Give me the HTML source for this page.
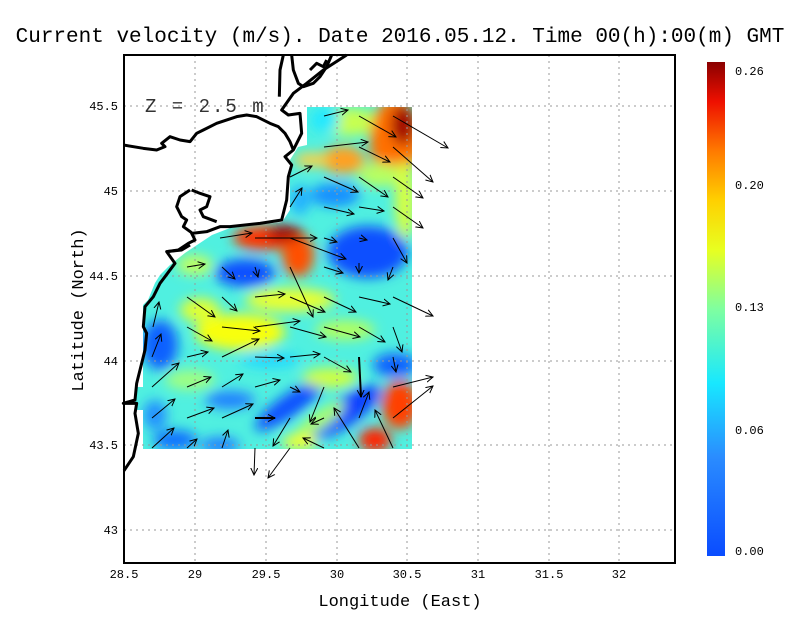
<!DOCTYPE html>
<html><head><meta charset="utf-8"><style>
html,body{margin:0;padding:0;background:#fff;}
svg{display:block;font-family:"Liberation Mono",monospace;}
</style></head><body>
<svg width="800" height="618" viewBox="0 0 800 618" xmlns="http://www.w3.org/2000/svg">
<defs>
<filter id="bl" x="-50%" y="-50%" width="200%" height="200%"><feGaussianBlur stdDeviation="6"/></filter>
<clipPath id="reg"><polygon points="307,107 412,107 412,449 143,449 143,410 135,410 135,387 143,387 143,305 148,300 155,283 160,275 170,265 185,253 200,243 212,235 230,228 282,222 290,210 290,160 298,147 307,145"/></clipPath>
<linearGradient id="cb" x1="0" y1="1" x2="0" y2="0">
<stop offset="0" stop-color="#0a4cff"/><stop offset="0.2" stop-color="#2a8cff"/><stop offset="0.35" stop-color="#18e8ff"/><stop offset="0.5" stop-color="#7fffa0"/><stop offset="0.62" stop-color="#e8ff20"/><stop offset="0.72" stop-color="#ffd000"/><stop offset="0.82" stop-color="#ff7a00"/><stop offset="0.92" stop-color="#ee1000"/><stop offset="1" stop-color="#8a0000"/>
</linearGradient>
<marker id="ah" markerWidth="8" markerHeight="8" refX="7" refY="4" orient="auto" markerUnits="userSpaceOnUse"><path d="M0,0.5 L7,4 L0,7.5" fill="none" stroke="#000" stroke-width="1"/></marker>
</defs>
<text x="400" y="42" font-size="21" text-anchor="middle">Current velocity (m/s). Date 2016.05.12. Time 00(h):00(m) GMT</text>
<g clip-path="url(#reg)">
<rect x="130" y="100" width="290" height="360" fill="#50f0e0"/>
<g filter="url(#bl)">
<ellipse cx="350" cy="122" rx="30" ry="14" fill="#c8ff50"/>
<ellipse cx="325" cy="120" rx="15" ry="12" fill="#20e8ff"/>
<ellipse cx="395" cy="140" rx="25" ry="42" fill="#ff7000"/>
<ellipse cx="403" cy="125" rx="12" ry="20" fill="#a00000"/>
<ellipse cx="380" cy="175" rx="22" ry="12" fill="#b8ff60"/>
<ellipse cx="343" cy="160" rx="22" ry="14" fill="#ffa020"/>
<ellipse cx="312" cy="160" rx="18" ry="7" fill="#ffd040"/>
<ellipse cx="335" cy="195" rx="25" ry="12" fill="#1890ff"/>
<ellipse cx="300" cy="200" rx="10" ry="15" fill="#20b0ff"/>
<ellipse cx="405" cy="200" rx="10" ry="40" fill="#d8ff40"/>
<ellipse cx="265" cy="238" rx="32" ry="12" fill="#ff3000"/>
<ellipse cx="298" cy="255" rx="16" ry="22" fill="#ff5000"/>
<ellipse cx="285" cy="233" rx="18" ry="8" fill="#a00000"/>
<ellipse cx="368" cy="252" rx="40" ry="26" fill="#0a50ff"/>
<ellipse cx="245" cy="273" rx="30" ry="14" fill="#0a50ff"/>
<ellipse cx="195" cy="265" rx="18" ry="10" fill="#c0ff60"/>
<ellipse cx="290" cy="300" rx="45" ry="12" fill="#e8ff30"/>
<ellipse cx="240" cy="332" rx="45" ry="18" fill="#f8ff10"/>
<ellipse cx="200" cy="310" rx="20" ry="12" fill="#e0ff30"/>
<ellipse cx="160" cy="345" rx="18" ry="25" fill="#1060ff"/>
<ellipse cx="190" cy="380" rx="25" ry="10" fill="#a0ff80"/>
<ellipse cx="155" cy="415" rx="12" ry="15" fill="#2090ff"/>
<ellipse cx="175" cy="440" rx="22" ry="10" fill="#1070ff"/>
<ellipse cx="290" cy="405" rx="42" ry="11" fill="#1050ff" transform="rotate(-35 290 405)"/>
<ellipse cx="345" cy="412" rx="42" ry="14" fill="#0a40ff" transform="rotate(-35 345 412)"/>
<ellipse cx="320" cy="420" rx="30" ry="8" fill="#b0ff60" transform="rotate(-35 320 420)"/>
<ellipse cx="395" cy="365" rx="22" ry="12" fill="#1060ff"/>
<ellipse cx="400" cy="405" rx="18" ry="24" fill="#ff4000"/>
<ellipse cx="375" cy="440" rx="16" ry="12" fill="#ff2000"/>
<ellipse cx="300" cy="442" rx="18" ry="8" fill="#f0ff30"/>
<ellipse cx="330" cy="378" rx="28" ry="10" fill="#d0ff40"/>
<ellipse cx="230" cy="400" rx="25" ry="9" fill="#2080ff"/>
<ellipse cx="345" cy="330" rx="30" ry="10" fill="#b0ff60"/>
<ellipse cx="220" cy="445" rx="20" ry="8" fill="#2080ff"/>
<ellipse cx="270" cy="360" rx="30" ry="8" fill="#20d8ff"/>
</g>
</g>
<g stroke="#999" stroke-dasharray="2,4" stroke-width="1">
<line x1="195" y1="55" x2="195" y2="563"/><line x1="266" y1="55" x2="266" y2="563"/><line x1="337" y1="55" x2="337" y2="563"/><line x1="407" y1="55" x2="407" y2="563"/><line x1="478" y1="55" x2="478" y2="563"/><line x1="549" y1="55" x2="549" y2="563"/><line x1="619" y1="55" x2="619" y2="563"/>
<line x1="124" y1="106" x2="675" y2="106"/><line x1="124" y1="191" x2="675" y2="191"/><line x1="124" y1="276" x2="675" y2="276"/><line x1="124" y1="361" x2="675" y2="361"/><line x1="124" y1="445" x2="675" y2="445"/><line x1="124" y1="530" x2="675" y2="530"/>
</g>
<g transform="translate(120,50) scale(0.33333)" fill="none" stroke="#000" stroke-width="9" stroke-linejoin="round">
<path d="M680,15 L610,60 L560,100 L520,130 L485,180 L505,195 L540,190 L545,250 L530,280 L520,300 L495,320 L515,345 L505,380 L500,450 L485,510 L420,520 L330,530 L300,530 L260,545 L215,550 L225,570 L205,580 L175,600 L140,605 L165,640 L135,680 L120,700 L100,740 L75,770 L70,830 L80,850 L75,900 L60,960 L50,1000 L45,1050 L10,1060 L50,1060 L45,1090 L55,1150 L40,1220 L12,1262"/>
<path d="M10,285 L70,295 L110,300 L135,290 L125,280 L150,260 L180,270 L210,275 L230,250 L250,240 L290,220 L350,200 L380,195 L410,200 L450,220 L475,230 L495,250 L510,275 L520,300"/>
<path d="M210,420 L180,440 L170,470 L185,500 L200,510 L190,530 L215,548"/>
<path d="M215,420 L240,430 L270,440 L260,470 L240,480 L250,500 L290,515"/>
<path d="M490,15 L480,60 L478,140"/>
<path d="M515,15 L520,60 L535,100 L550,110 L580,100 L600,80 L620,50 L635,15"/>
<path d="M570,60 L590,40 L610,50 L620,30"/>
<path d="M140,605 L185,600 L210,585"/>
</g>
<g stroke="#000" stroke-width="1" marker-end="url(#ah)">
<line x1="324" y1="116" x2="348" y2="110"/><line x1="359" y1="116" x2="396" y2="137"/><line x1="393" y1="116" x2="448" y2="148"/>
<line x1="324" y1="147" x2="368" y2="142"/><line x1="359" y1="147" x2="390" y2="162"/><line x1="393" y1="147" x2="433" y2="182"/><line x1="290" y1="177" x2="312" y2="166"/>
<line x1="324" y1="177" x2="358" y2="192"/><line x1="359" y1="177" x2="388" y2="197"/><line x1="393" y1="177" x2="423" y2="198"/><line x1="290" y1="207" x2="302" y2="188"/>
<line x1="324" y1="207" x2="354" y2="214"/><line x1="359" y1="207" x2="384" y2="211"/><line x1="393" y1="207" x2="423" y2="228"/>
<line x1="220" y1="238" x2="252" y2="233"/><line x1="255" y1="238" x2="317" y2="238"/><line x1="290" y1="238" x2="346" y2="259"/><line x1="324" y1="238" x2="337" y2="242"/><line x1="359" y1="238" x2="367" y2="240"/><line x1="393" y1="238" x2="407" y2="263"/>
<line x1="187" y1="267" x2="205" y2="264"/><line x1="222" y1="267" x2="235" y2="279"/><line x1="255" y1="267" x2="258" y2="277"/><line x1="290" y1="267" x2="313" y2="317"/><line x1="324" y1="267" x2="343" y2="273"/><line x1="359" y1="263" x2="359" y2="273"/><line x1="393" y1="267" x2="388" y2="280"/>
<line x1="187" y1="297" x2="215" y2="317"/><line x1="222" y1="297" x2="237" y2="311"/><line x1="255" y1="297" x2="285" y2="294"/><line x1="290" y1="297" x2="325" y2="312"/><line x1="324" y1="297" x2="356" y2="312"/><line x1="359" y1="297" x2="390" y2="304"/><line x1="393" y1="297" x2="433" y2="316"/>
<line x1="153" y1="327" x2="159" y2="302"/><line x1="187" y1="327" x2="212" y2="341"/><line x1="222" y1="327" x2="260" y2="331"/><line x1="255" y1="327" x2="300" y2="321"/><line x1="290" y1="327" x2="326" y2="337"/><line x1="324" y1="327" x2="360" y2="337"/><line x1="359" y1="327" x2="385" y2="342"/><line x1="393" y1="327" x2="402" y2="352"/>
<line x1="152" y1="357" x2="161" y2="334"/><line x1="187" y1="357" x2="208" y2="352"/><line x1="222" y1="357" x2="259" y2="339"/><line x1="255" y1="357" x2="284" y2="358"/><line x1="290" y1="357" x2="320" y2="354"/><line x1="324" y1="357" x2="351" y2="372"/><line x1="359" y1="357" x2="361" y2="397" stroke-width="2"/><line x1="393" y1="357" x2="396" y2="372"/>
<line x1="152" y1="387" x2="179" y2="363"/><line x1="187" y1="387" x2="211" y2="377"/><line x1="222" y1="387" x2="243" y2="374"/><line x1="255" y1="387" x2="280" y2="380"/><line x1="290" y1="387" x2="300" y2="392"/><line x1="393" y1="387" x2="433" y2="377"/>
<line x1="152" y1="418" x2="175" y2="399"/><line x1="187" y1="418" x2="214" y2="408"/><line x1="222" y1="418" x2="253" y2="404"/><line x1="255" y1="418" x2="275" y2="418" stroke-width="2"/><line x1="324" y1="387" x2="310" y2="422"/><line x1="324" y1="418" x2="311" y2="424"/><line x1="359" y1="418" x2="369" y2="392"/><line x1="393" y1="418" x2="433" y2="386"/><line x1="359" y1="448" x2="334" y2="408"/><line x1="393" y1="448" x2="375" y2="410"/>
<line x1="152" y1="448" x2="174" y2="428"/><line x1="187" y1="448" x2="197" y2="439"/><line x1="222" y1="448" x2="228" y2="430"/><line x1="255" y1="448" x2="254" y2="475"/><line x1="290" y1="448" x2="268" y2="478"/><line x1="324" y1="448" x2="303" y2="438"/><line x1="290" y1="418" x2="273" y2="446"/>
</g>
<text x="145" y="112" font-size="19" fill="#333" letter-spacing="2">Z = 2.5 m</text>
<rect x="124" y="55" width="551" height="508" fill="none" stroke="#000" stroke-width="2"/>
<g font-size="12" text-anchor="middle">
<text x="124" y="578">28.5</text><text x="195" y="578">29</text><text x="266" y="578">29.5</text><text x="337" y="578">30</text><text x="407" y="578">30.5</text><text x="478" y="578">31</text><text x="549" y="578">31.5</text><text x="619" y="578">32</text>
</g>
<g font-size="12" text-anchor="end">
<text x="118" y="110">45.5</text><text x="118" y="195">45</text><text x="118" y="280">44.5</text><text x="118" y="365">44</text><text x="118" y="449">43.5</text><text x="118" y="534">43</text>
</g>
<text x="400" y="606" font-size="17" text-anchor="middle">Longitude (East)</text>
<text transform="translate(83,310) rotate(-90)" font-size="17" text-anchor="middle">Latitude (North)</text>
<rect x="707" y="62" width="18" height="494" fill="url(#cb)"/>
<g font-size="12">
<text x="735" y="75">0.26</text><text x="735" y="189">0.20</text><text x="735" y="311">0.13</text><text x="735" y="434">0.06</text><text x="735" y="555">0.00</text>
</g>
</svg>
</body></html>
